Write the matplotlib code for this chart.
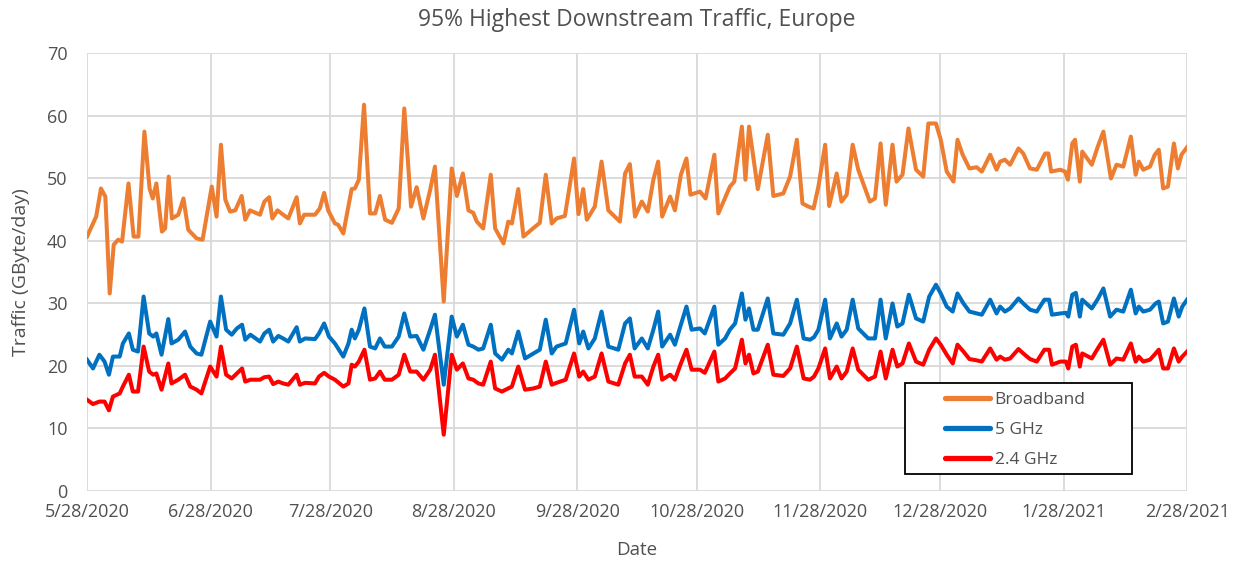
import matplotlib
matplotlib.use("Agg")
import matplotlib.pyplot as plt
import matplotlib.dates as mdates
from matplotlib.patches import Rectangle
import pandas as pd

START = pd.Timestamp("2020-05-28")

# day offsets from 5/28/2020 and values (GByte/day)
bb_day = [0, 2.3, 3.5, 4.6, 5.7, 6.7, 7.8, 8.8, 10.4, 11.7, 12.9, 14.4, 15.7, 16.5,
          17.4, 18.8, 19.6, 20.5, 21.3, 22.9, 24.2, 25.4, 27.5, 29, 31.3, 32.5, 33.6,
          34.7, 35.9, 37.2, 38.8, 39.7, 40.9, 43.4, 44.5, 45.7, 46.5, 47.8, 48.8, 50.5,
          52.6, 53.4, 54.5, 57.2, 58.4, 59.5, 60.5, 62.2, 63.0, 64.3, 66.4, 67.2, 68.2,
          69.5, 71.0, 72.3, 73.5, 74.8, 76.5, 78.2, 79.6, 81.3, 82.7, 84.4, 86.1, 87.3,
          89.5, 91.5, 92.8, 94.3, 95.7, 96.9, 97.8, 99.4, 101.3, 102.4, 104.5, 105.7,
          106.6, 108.2, 109.5, 111.5, 113.6, 115.1, 116.6, 117.8, 119.9, 122.2, 123.3,
          124.5, 125.4, 127.4, 129.1, 130.8, 133.7, 135.0, 136.2, 137.5, 139.2, 140.7,
          142.1, 143.3, 144.3, 146.3, 147.5, 149.0, 150.4, 151.4, 153.8, 155.2, 157.4,
          158.4, 159.9, 161.3, 162.4, 164.3, 165.2, 166.1, 168.3, 170.8, 172.2, 174.7,
          176.4, 178.1, 179.5, 181.0, 182.3, 183.5, 185.2, 186.2, 188.1, 189.3, 190.6,
          192.1, 193.5, 196.4, 197.7, 199.1, 200.4, 202.1, 203.1, 204.6, 206.1, 208.0,
          209.8, 211.1, 213.0, 214.2, 215.7, 217.4, 218.4, 219.7, 221.4, 223.2, 224.5,
          226.6, 228.2, 229.1, 230.3, 231.6, 233.7, 234.9, 236.6, 238.3, 240.4, 241.2,
          241.9, 244.2, 245.4, 246.1, 247.2, 247.9, 249.1, 249.7, 252.1, 253.6, 255.0,
          256.9, 258.3, 260.0, 261.9, 263.1, 263.9, 265.0, 266.7, 267.9, 268.9, 270.0,
          271.2, 272.7, 273.7, 274.6, 276]
bb_val = [40.7, 43.9, 48.4, 47.1, 31.6, 39.4, 40.2, 39.9, 49.2, 40.7, 40.7, 57.5, 48.4, 46.8,
          49.2, 41.5, 42.0, 50.3, 43.6, 44.2, 46.8, 41.8, 40.4, 40.2, 48.7, 43.9, 55.4,
          46.6, 44.7, 44.9, 47.2, 43.4, 44.9, 44.2, 46.3, 47.0, 43.6, 44.9, 44.4, 43.6,
          47.0, 42.8, 44.2, 44.2, 45.2, 47.7, 44.9, 42.8, 42.6, 41.2, 48.3, 48.4, 49.8,
          61.8, 44.4, 44.4, 47.2, 43.4, 42.9, 45.2, 61.2, 45.5, 48.6, 43.6, 48.2, 51.9,
          30.3, 51.6, 47.2, 50.8, 44.9, 44.5, 43.1, 42.0, 50.6, 42.0, 39.6, 43.1,
          42.8, 48.3, 40.7, 41.8, 42.9, 50.6, 42.8, 43.6, 44.0, 53.2, 44.3,
          48.3, 43.4, 45.5, 52.7, 44.9, 43.1, 50.8, 52.3, 43.9, 46.3, 44.7,
          49.8, 52.7, 43.9, 47.1, 44.9, 50.6, 53.2, 47.4, 47.9, 46.8, 53.8,
          44.4, 46.6, 48.7, 49.5, 58.3, 49.8, 58.3, 48.3, 57.0, 47.2, 47.6,
          50.3, 56.2, 46.0, 45.5, 45.2, 48.7, 55.4, 45.6, 50.8, 46.3, 47.4,
          55.4, 51.4, 46.3, 46.8, 55.6, 45.8, 55.4, 49.5, 50.6, 58.0, 51.4,
          50.3, 58.8, 58.8, 56.2, 51.1, 49.5, 56.2, 53.8, 51.6, 51.8, 51.1,
          53.8, 51.4, 52.7, 53.0, 52.2, 54.8, 54.0, 51.6, 51.4, 54.0, 54.0,
          51.1, 51.4, 51.1, 49.8, 55.6, 56.2, 49.5, 54.3, 52.2, 55.1, 57.5,
          50.0, 52.2, 51.9, 56.7, 50.6, 52.7, 51.4, 51.9, 53.8, 54.6, 48.4,
          48.7, 55.6, 51.6, 53.8, 55.0]

g5_day = [0, 1.5, 3.1, 4.4, 5.5, 6.5, 8.2, 9.0, 10.5, 11.5, 12.8, 14.2, 15.6, 16.6, 17.4,
          18.7, 20.4, 21.2, 22.9, 24.6, 25.9, 27.5, 28.7, 30.9, 32.5, 33.6, 34.9, 36.3,
          37.6, 38.9, 39.7, 41.0, 43.4, 44.5, 45.7, 46.7, 48.0, 49.2, 50.5, 52.6, 53.4,
          54.7, 57.2, 58.2, 59.5, 60.7, 62.2, 64.3, 65.6, 66.4, 67.2, 68.2, 69.6, 71.0,
          72.3, 73.5, 74.7, 76.5, 78.2, 79.6, 81.1, 82.7, 84.4, 86.1, 87.3, 89.5, 91.5,
          92.8, 94.3, 95.7, 96.9, 98.2, 99.4, 101.3, 102.4, 104.1, 105.7, 106.6, 108.2,
          109.9, 112.0, 113.6, 115.1, 116.6, 117.8, 120.1, 122.2, 123.5, 124.5, 125.8,
          127.4, 129.1, 130.8, 133.3, 135.0, 136.2, 137.4, 139.2, 140.7, 142.1, 143.3,
          144.3, 146.3, 147.5, 149.0, 150.4, 151.7, 153.8, 155.0, 157.4, 158.4, 160.1,
          161.3, 162.6, 164.3, 165.2, 166.1, 167.2, 168.3, 170.8, 172.2, 174.7, 176.4,
          178.1, 179.8, 181.4, 182.4, 183.5, 185.2, 186.4, 188.1, 189.3, 190.6, 192.1,
          193.5, 196.0, 197.7, 199.1, 200.4, 202.1, 203.3, 204.6, 206.2, 208.0, 209.8,
          211.3, 213.0, 214.2, 215.7, 217.2, 218.4, 219.9, 221.4, 223.2, 224.5, 226.6,
          228.2, 229.1, 230.3, 231.6, 233.7, 234.9, 236.6, 238.3, 240.2, 241.4, 242.1,
          244.2, 245.6, 246.2, 247.2, 248.1, 249.1, 249.7, 252.1, 253.6, 255.0, 256.7,
          258.3, 260.0, 261.9, 263.1, 263.9, 265.0, 266.7, 268.1, 268.9, 270.0, 271.2,
          272.7, 273.9, 274.8, 276]
g5_val = [21.0, 19.6, 21.8, 20.7, 18.6, 21.5, 21.5, 23.6, 25.2, 22.6, 22.3, 31.1, 25.2, 24.7, 25.2,
          21.8, 27.5, 23.6, 24.2, 25.5, 23.1, 22.0, 21.8, 27.1, 24.7, 31.1, 25.8, 25.0,
          26.0, 26.6, 24.2, 25.0, 23.9, 25.2, 25.8, 23.9, 24.8, 24.4, 23.9, 26.2, 23.9,
          24.4, 24.3, 25.2, 26.8, 24.7, 23.6, 21.5, 23.6, 25.8, 24.4, 25.8, 29.2, 23.1,
          22.8, 24.4, 23.1, 23.1, 24.7, 28.4, 24.7, 24.8, 22.6, 25.8, 28.2, 17.0, 27.9,
          24.7, 26.6, 23.4, 23.1, 22.6, 22.8, 26.6, 22.0, 21.0, 22.6, 22.0, 25.5,
          21.2, 22.0, 22.6, 27.4, 22.0, 23.1, 23.6, 29.0, 23.6, 25.5, 22.8,
          24.4, 28.7, 23.1, 22.6, 26.8, 27.6, 22.8, 24.4, 22.8, 25.8, 28.7,
          23.1, 25.0, 23.4, 26.6, 29.5, 25.8, 26.0, 25.2, 29.5, 23.4, 24.4,
          25.8, 26.8, 31.6, 27.4, 29.2, 25.8, 25.8, 30.8, 25.2, 25.0, 26.8,
          30.6, 24.4, 24.2, 24.6, 25.8, 30.6, 24.4, 26.8, 24.7, 25.8, 30.6,
          26.0, 24.4, 24.4, 30.6, 24.4, 30.0, 26.3, 26.8, 31.4, 27.6, 27.1,
          31.1, 33.0, 31.6, 29.5, 28.7, 31.6, 30.0, 28.7, 28.4, 28.2, 30.6,
          28.4, 29.5, 28.7, 29.2, 30.8, 30.0, 29.0, 28.7, 30.6, 30.6, 28.2,
          28.4, 28.5, 27.9, 31.4, 31.7, 27.9, 30.6, 29.2, 30.7, 32.4, 27.9,
          29.0, 28.7, 32.2, 28.4, 29.5, 28.7, 29.0, 30.0, 30.3, 26.8, 27.1,
          30.8, 27.9, 29.5, 30.6]

g24_day = g5_day
g24_val = [14.6, 13.9, 14.3, 14.3, 12.9, 15.1, 15.6, 16.7, 18.6, 15.9, 15.9, 23.1, 19.1, 18.6, 18.8,
           16.2, 20.4, 17.2, 17.8, 18.6, 16.7, 16.2, 15.6, 19.9, 18.3, 23.1, 18.6, 18.0,
           18.8, 19.6, 17.5, 17.8, 17.8, 18.2, 18.3, 17.1, 17.5, 17.2, 17.0, 18.6, 17.0,
           17.3, 17.2, 18.3, 18.9, 18.3, 17.8, 16.7, 17.2, 20.2, 19.9, 20.7, 22.6, 17.8,
           18.0, 19.1, 17.8, 17.8, 18.6, 21.8, 19.1, 19.1, 17.8, 19.4, 21.8, 9.0, 21.8,
           19.4, 20.4, 18.0, 17.8, 17.2, 17.0, 20.7, 16.4, 15.9, 16.4, 16.7, 19.9,
           16.2, 16.4, 16.7, 20.7, 17.0, 17.3, 17.8, 22.0, 18.3, 19.1, 17.8,
           18.3, 22.0, 17.5, 17.0, 20.4, 21.8, 18.3, 18.3, 17.0, 19.9, 21.8,
           17.8, 18.6, 17.8, 20.4, 22.6, 19.4, 19.4, 18.9, 22.3, 17.5, 18.0,
           18.8, 19.6, 24.2, 20.4, 21.8, 18.8, 19.1, 23.4, 18.6, 18.4, 19.6,
           23.1, 18.0, 17.8, 18.3, 19.6, 22.8, 18.0, 19.9, 18.0, 19.1, 22.8,
           19.4, 17.8, 18.3, 22.3, 18.0, 22.6, 19.9, 20.4, 23.6, 20.7, 20.2,
           22.6, 24.4, 23.4, 21.8, 20.4, 23.4, 22.3, 21.1, 20.9, 20.7, 22.8,
           21.0, 21.5, 21.0, 21.2, 22.7, 22.0, 21.1, 20.7, 22.6, 22.6, 20.2,
           20.7, 20.7, 19.6, 23.1, 23.4, 19.9, 22.0, 21.2, 22.8, 24.2, 20.2,
           21.2, 21.0, 23.6, 20.7, 21.5, 20.7, 21.0, 22.0, 22.6, 19.6, 19.6,
           22.8, 20.7, 21.5, 22.3]

tick_dates = ["2020-05-28", "2020-06-28", "2020-07-28", "2020-08-28", "2020-09-28",
              "2020-10-28", "2020-11-28", "2020-12-28", "2021-01-28", "2021-02-28"]


def to_dates(days):
    return START + pd.to_timedelta(days, unit="D")


plt.rcParams["font.family"] = ["Open Sans", "DejaVu Sans"]
TXT = "#505050"

fig = plt.figure(figsize=(12.43, 5.63), dpi=100)
ax = fig.add_axes([0.070, 0.128, 0.885, 0.777])

ax.plot(to_dates(bb_day), bb_val, color="#ED7D31", lw=2.9, label="Broadband")
ax.plot(to_dates(g5_day), g5_val, color="#0070C0", lw=2.9, label="5 GHz")
ax.plot(to_dates(g24_day), g24_val, color="#FF0000", lw=2.9, label="2.4 GHz")

ticks = pd.to_datetime(tick_dates)
ax.set_xlim(ticks[0], ticks[-1])
ax.set_xticks(ticks)
ax.xaxis.set_major_formatter(mdates.DateFormatter("%-m/%d/%Y"))
ax.set_ylim(0, 70)
ax.set_yticks(range(0, 71, 10))

ax.grid(True, color="#D9D9D9", lw=1.3)
ax.set_axisbelow(True)
for s in ax.spines.values():
    s.set_visible(False)
ax.tick_params(length=0, labelsize=13, colors=TXT)
ax.tick_params(axis="x", pad=9)
ax.tick_params(axis="y", pad=14)

ax.set_title("95% Highest Downstream Traffic, Europe", fontsize=16.5, color=TXT, pad=20)
ax.set_xlabel("Date", fontsize=13.5, color=TXT, labelpad=14)
ax.set_ylabel("Traffic (GByte/day)", fontsize=14, color=TXT, labelpad=12)

# legend: frame drawn as a rectangle, entries placed inside it
ax.add_patch(Rectangle((0.744, 0.039), 0.206, 0.208, transform=ax.transAxes,
                       facecolor="white", edgecolor="black", lw=1.3, zorder=5))
leg = ax.legend(loc="upper left", bbox_to_anchor=(0.780, 0.226), frameon=False,
                fontsize=12.5, handlelength=2.6, handletextpad=0.25,
                borderpad=0, labelspacing=0.78, borderaxespad=0)
leg.set_zorder(6)
for t in leg.get_texts():
    t.set_color(TXT)
for h in leg.get_lines():
    h.set_linewidth(3.8)
    h.set_solid_capstyle("round")

fig.savefig("out.png", dpi=100)
